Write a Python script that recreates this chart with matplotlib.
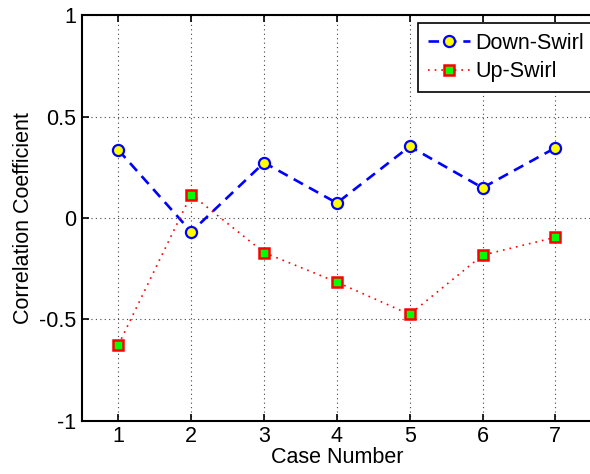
import matplotlib
matplotlib.use("Agg")
import matplotlib.pyplot as plt

cases = [1, 2, 3, 4, 5, 6, 7]
down_swirl = [0.335, -0.068, 0.273, 0.074, 0.353, 0.149, 0.346]
up_swirl = [-0.625, 0.116, -0.170, -0.316, -0.475, -0.183, -0.095]
yticks = [-1, -0.5, 0, 0.5, 1]
ytick_labels = ["-1", "-0.5", "0", "0.5", "1"]

plt.rcParams['font.family'] = ['Liberation Sans', 'DejaVu Sans']
FS = 15.5

fig = plt.figure(figsize=(5.9, 4.74), dpi=100)
ax = fig.add_axes([0.139, 0.112, 0.864, 0.856])

ax.plot(cases, down_swirl, color='#0000ff', linestyle=(0, (4, 2.6)), linewidth=1.9,
        marker='o', markersize=8, markerfacecolor='#ffff00', markeredgecolor='#0000ff',
        markeredgewidth=1.6, label='Down-Swirl')
ax.plot(cases, up_swirl, color='#ff0000', linestyle=(0, (1, 3)), linewidth=1.2,
        marker='s', markersize=7.5, markerfacecolor='#00ff00', markeredgecolor='#ff0000',
        markeredgewidth=1.8, label='Up-Swirl')

ax.set_xlim(0.5, 7.5)
ax.set_ylim(-1, 1)
ax.set_xticks(cases)
ax.set_yticks(yticks)
ax.set_yticklabels(ytick_labels)
ax.tick_params(direction='in', length=5, width=1.2, labelsize=FS, top=True, right=False, pad=4)
for s in ax.spines.values():
    s.set_linewidth(1.5)
ax.spines['right'].set_visible(False)
ax.grid(True, color='#444444', linestyle=(0, (1, 3)), linewidth=0.8)
ax.set_axisbelow(True)

ax.set_xlabel('Case Number', fontsize=FS, labelpad=0)
ax.set_ylabel('Correlation Coefficient', fontsize=FS, labelpad=4)

leg = ax.legend(loc='upper left', bbox_to_anchor=(418 / 590, 1 - 23 / 474),
                bbox_transform=fig.transFigure, fontsize=FS, fancybox=False, framealpha=1,
                edgecolor='black', borderpad=0.45, handlelength=1.95, handletextpad=0.25,
                labelspacing=0.35, borderaxespad=0)
leg.get_frame().set_linewidth(1.2)

fig.savefig('out.png', dpi=100)
